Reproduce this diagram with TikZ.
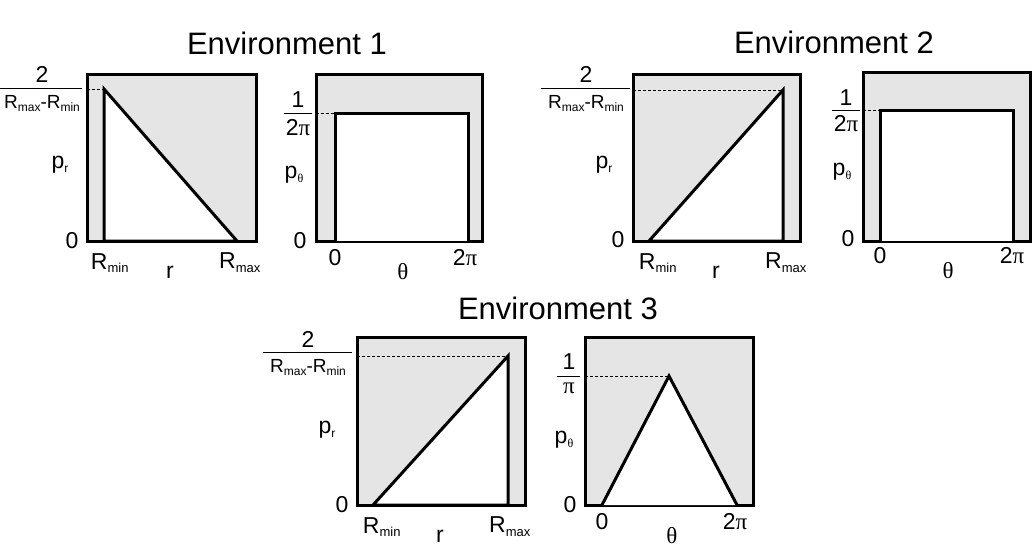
\documentclass[tikz,border=0pt]{standalone}
\usepackage{fontspec}
\setmainfont{Liberation Sans}
\newfontfamily\sym{Liberation Serif}
\begin{document}
\begin{tikzpicture}[x=1pt,y=-1pt,
  box/.style={line width=3pt,fill=black!10},
  curve/.style={line width=3pt,fill=white,line join=miter},
  dline/.style={line width=1pt,dash pattern=on 3pt off 2pt},
  lab/.style={font=\fontsize{23}{23}\selectfont,inner sep=0pt},
  ttl/.style={font=\fontsize{31}{31}\selectfont,inner sep=0pt}]
\useasboundingbox (0,0) rectangle (1036,555);
\newcommand\Rsub[1]{R\textsubscript{\fontsize{13}{13}\selectfont #1}}
\newcommand\Den{\fontsize{19}{19}\selectfont R\raisebox{-0.3ex}{\fontsize{12}{12}\selectfont max}-R\raisebox{-0.3ex}{\fontsize{12}{12}\selectfont min}}
% titles
\node[ttl] (t1) at (287,43) {Environment 1};
\node[ttl] (t2) at (834,42) {Environment 2};
\node[ttl] (t3) at (558,308) {Environment 3};
% ---- Env 1 left
\draw[box] (87,74) rectangle (256,241);
\draw[curve] (104,241) -- (104,89) -- (237,241) -- cycle;
\draw[dline] (87,89) -- (104,89);
\draw[line width=1pt] (0,88) -- (82,88);
\node[lab] at (42,74) {2};
\node[lab] at (42,104) {\Den};
\node[lab] at (60,165) {p\raisebox{-0.3ex}{\fontsize{12}{12}\selectfont r}};
\node[lab] at (72,241) {0};
\node[lab] at (110,263) {\Rsub{min}};
\node[lab] at (170,272) {r};
\node[lab] at (240,263) {\Rsub{max}};
% ---- Env 1 right
\draw[box] (316,74) rectangle (482,241);
\draw[curve] (335,241) -- (335,113) -- (468,113) -- (468,241);
\draw[dline] (316,113) -- (335,113);
\draw[line width=1pt] (284,113) -- (312,113);
\node[lab] at (298,100) {1};
\node[lab] at (298,128) {2{\sym π}};
\node[lab] at (294,175) {p\raisebox{-0.3ex}{\fontsize{12}{12}\selectfont{\sym θ}}};
\node[lab] at (300,241) {0};
\node[lab] at (335,258) {0};
\node[lab] at (465,258) {2{\sym π}};
\node[lab] at (403,272) {\sym θ};
% ---- Env 2 left
\draw[box] (633,74) rectangle (800,241);
\draw[curve] (649,241) -- (783,90) -- (783,241) -- cycle;
\draw[dline] (633,90) -- (783,90);
\draw[line width=1pt] (541,88) -- (630,88);
\node[lab] at (586,74) {2};
\node[lab] at (586,104) {\Den};
\node[lab] at (604,165) {p\raisebox{-0.3ex}{\fontsize{12}{12}\selectfont r}};
\node[lab] at (618,240) {0};
\node[lab] at (658,263) {\Rsub{min}};
\node[lab] at (716,272) {r};
\node[lab] at (786,263) {\Rsub{max}};
% ---- Env 2 right
\draw[box] (863,72) rectangle (1030,241);
\draw[curve] (880,241) -- (880,110) -- (1013,110) -- (1013,241);
\draw[dline] (863,110) -- (880,110);
\draw[line width=1pt] (832,110) -- (860,110);
\node[lab] at (846,98) {1};
\node[lab] at (846,124) {2{\sym π}};
\node[lab] at (842,172) {p\raisebox{-0.3ex}{\fontsize{12}{12}\selectfont{\sym θ}}};
\node[lab] at (848,239) {0};
\node[lab] at (880,256) {0};
\node[lab] at (1012,256) {2{\sym π}};
\node[lab] at (948,271) {\sym θ};
% ---- Env 3 left
\draw[box] (357,337) rectangle (525,505);
\draw[curve] (373,505) -- (508,356) -- (508,505) -- cycle;
\draw[dline] (357,356) -- (508,356);
\draw[line width=1pt] (263,352) -- (352,352);
\node[lab] at (308,339) {2};
\node[lab] at (308,368) {\Den};
\node[lab] at (327,430) {p\raisebox{-0.3ex}{\fontsize{12}{12}\selectfont r}};
\node[lab] at (342,505) {0};
\node[lab] at (382,527) {\Rsub{min}};
\node[lab] at (440,536) {r};
\node[lab] at (510,527) {\Rsub{max}};
% ---- Env 3 right
\draw[box] (585,337) rectangle (753,505);
\draw[curve] (602,505) -- (669,376) -- (737,505);
\draw[dline] (585,376) -- (669,376);
\draw[line width=1pt] (557,376) -- (580,376);
\node[lab] at (569,362) {1};
\node[lab] at (569,388) {\sym π};
\node[lab] at (564,440) {p\raisebox{-0.3ex}{\fontsize{12}{12}\selectfont{\sym θ}}};
\node[lab] at (570,505) {0};
\node[lab] at (602,522) {0};
\node[lab] at (735,522) {2{\sym π}};
\node[lab] at (672,536) {\sym θ};
\end{tikzpicture}
\end{document}
